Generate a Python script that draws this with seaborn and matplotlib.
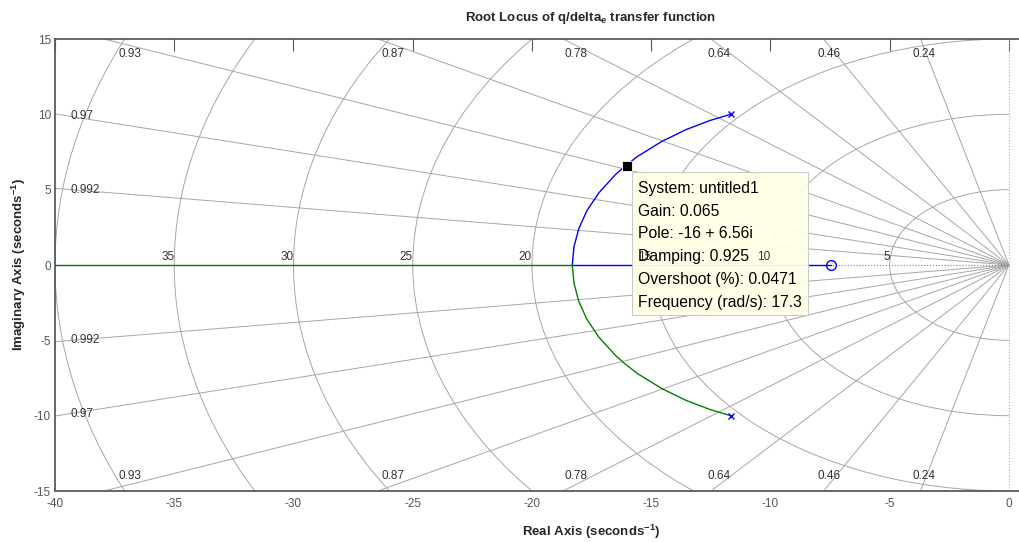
import numpy as np
import matplotlib
matplotlib.use("Agg")
import matplotlib.pyplot as plt
from matplotlib.patches import Arc, Rectangle
import seaborn as sns

# open-loop poles / zero of q/delta_e
pole_re = [-11.67, -11.67]
pole_im = [10.0, -10.0]
zero_re = [-7.46]
zero_im = [0.0]

# complex branch (upper half, mirrored for the lower one)
branch_re = [-11.67, -12.52, -13.52, -14.56, -15.58, -16.10, -16.50, -17.19, -17.70, -18.04, -18.24, -18.31]
branch_im = [10.0, 9.6, 9.0, 8.2, 7.2, 6.56, 6.0, 4.8, 3.6, 2.4, 1.2, 0.0]
breakin = -18.31
real_left = -40.0

# selected datatip point
sel_re = -16.0
sel_im = 6.56
tip_lines = ["System: untitled1", "Gain: 0.065", "Pole: -16 + 6.56i",
             "Damping: 0.925", "Overshoot (%): 0.0471", "Frequency (rad/s): 17.3"]

# s-grid
zetas = [0.24, 0.46, 0.64, 0.78, 0.87, 0.93, 0.97, 0.992]
wns = [5, 10, 15, 20, 25, 30, 35, 40]
zeta_top = ["0.93", "0.87", "0.78", "0.64", "0.46", "0.24"]
zeta_top_x = [-37.32, -26.29, -18.62, -12.62, -8.01, -4.03]
zeta_side = ["0.97", "0.992"]
zeta_side_y = [9.9, 4.98]
wn_labels = ["35", "30", "25", "20", "15", "10", "5"]

xticks = [-40, -35, -30, -25, -20, -15, -10, -5, 0]
yticks = [-15, -10, -5, 0, 5, 10, 15]

sns.set_style("white")
plt.rcParams['font.family'] = ['Liberation Sans', 'DejaVu Sans']
plt.rcParams['mathtext.fontset'] = 'custom'
plt.rcParams['mathtext.rm'] = 'Liberation Sans'
plt.rcParams['mathtext.bf'] = 'Liberation Sans:bold'
plt.rcParams['axes.unicode_minus'] = False

W, H = 1019, 542
fig = plt.figure(figsize=(W / 100, H / 100), dpi=100)
ax = fig.add_axes([55 / W, 51 / H, 1072 / W, 452 / H])
ax.set_xlim(-40, 4.95)
ax.set_ylim(-15, 15)

grid_c = '#a6a6a6'
lab_c = '#333333'

# damping lines
for z in zetas:
    th = np.arccos(z)
    for sgn in (1, -1):
        ax.plot([0, -100 * np.cos(th)], [0, sgn * 100 * np.sin(th)], color=grid_c, lw=0.7, zorder=1)
# natural frequency circles (left half only)
for wn in wns:
    ax.add_patch(Arc((0, 0), 2 * wn, 2 * wn, theta1=90, theta2=270, color=grid_c, lw=0.7, zorder=1))
ax.plot([-40, 0], [0, 0], color='#808080', lw=0.8, ls=':', zorder=1)
ax.plot([0, 0], [-15, 15], color='#b0b0b0', lw=0.8, ls=':', zorder=1)

for lab, x in zip(zeta_top, zeta_top_x):
    ax.text(x, 14.0, lab, fontsize=8.5, color=lab_c, ha='left', va='center', zorder=2)
    ax.text(x, -14.0, lab, fontsize=8.5, color=lab_c, ha='left', va='center', zorder=2)
for lab, y in zip(zeta_side, zeta_side_y):
    ax.text(-39.37, y, lab, fontsize=8.5, color=lab_c, ha='left', va='center', zorder=2)
    ax.text(-39.37, -y, lab, fontsize=8.5, color=lab_c, ha='left', va='center', zorder=2)
for lab in wn_labels:
    ax.text(-float(lab), 0.5, lab, fontsize=8.5, color=lab_c, ha='right', va='center', zorder=6)

# root locus branches
sns.lineplot(x=branch_re, y=branch_im, sort=False, estimator=None, color='blue', lw=1.0, ax=ax, zorder=3)
sns.lineplot(x=branch_re, y=[-v for v in branch_im], sort=False, estimator=None, color='green', lw=1.0, ax=ax, zorder=3)
ax.plot([breakin, zero_re[0]], [0, 0], color='blue', lw=1.0, zorder=3)
ax.plot([real_left, breakin], [0, 0], color='green', lw=1.0, zorder=3)
ax.plot(pole_re, pole_im, ls='none', marker='x', ms=4.5, mew=1.0, color='blue', zorder=4)
ax.plot(zero_re, zero_im, ls='none', marker='o', ms=7, mfc='none', mew=1.0, color='blue', zorder=4)

# datatip
ax.add_patch(Rectangle((-15.81, -3.32), 7.38, 9.49, facecolor='#ffffe6', edgecolor='#c8c8c8',
                       lw=0.8, alpha=0.95, zorder=5))
ax.text(-15.56, 5.6, "\n".join(tip_lines), fontsize=11.3, color='black', ha='left', va='top',
        linespacing=1.66, zorder=7)
ax.plot([sel_re], [sel_im], ls='none', marker='s', ms=7.5, mfc='black', mec='white', mew=0.6, zorder=8)

ax.set_xticks(xticks)
ax.set_yticks(yticks)
ax.tick_params(direction='in', length=8.6, width=0.8, color='#555555', labelcolor='#555555',
               labelsize=8.5, top=True, right=True)
ax.tick_params(axis='x', pad=5)
ax.tick_params(axis='y', pad=3)
for s in ax.spines.values():
    s.set_color('#5a5a5a')
    s.set_linewidth(1.3)

ax.set_title('Root Locus of q/delta$_\\mathbf{e}$ transfer function', fontsize=9.5, fontweight='bold', pad=13)
ax.set_xlabel('Real Axis (seconds$^\\mathbf{-1}$)', fontsize=9.5, fontweight='bold', labelpad=9)
ax.set_ylabel('Imaginary Axis (seconds$^\\mathbf{-1}$)', fontsize=9.5, fontweight='bold', labelpad=4)

fig.savefig('out.png', dpi=100)
